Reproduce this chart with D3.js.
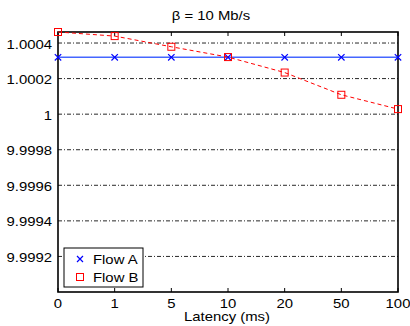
<!DOCTYPE html>
<html>
<head>
<meta charset="UTF-8">
<title>Latency</title>
<style>
  body { margin: 0; background: #fff; }
  text { font-family: "Liberation Sans", Arial, sans-serif; font-size: 12.6px; fill: #000; }
</style>
</head>
<body>
<div id="app"></div>
<script src="https://cdnjs.cloudflare.com/ajax/libs/d3/7.8.5/d3.min.js"></script>
<script>
let latencies = ['0', '1', '5', '10', '20', '50', '100']
let flowA = [1.00032, 1.00032, 1.00032, 1.00032, 1.00032, 1.00032, 1.00032]
let flowB = [1.000462, 1.000439, 1.000379, 1.000321, 1.000234, 1.000109, 1.0000285]
let yTicks = [0.9992, 0.9994, 0.9996, 0.9998, 1, 1.0002, 1.0004]
let yLabels = ['9.9992', '9.9994', '9.9996', '9.9998', '1', '1.0002', '1.0004']

let W = 410, H = 326
let L = 58, R = 398, T = 32, B = 292
let SX = 1.18  // the picture is a bit wide

let svg = d3.select('#app').append('svg')
  .attr('width', W).attr('height', H)

let x = d3.scalePoint().domain(latencies).range([L, R])
let y = d3.scaleLinear().domain([0.999, 1.000462]).range([B, T])

function label(sel, px, py, anchor) {
  return sel.append('text')
    .attr('text-anchor', anchor)
    .attr('transform', 'translate(' + px + ',' + py + ') scale(' + SX + ',1)')
}

// grid
svg.append('g').selectAll('line').data(yTicks).enter().append('line')
  .attr('x1', L).attr('x2', R)
  .attr('y1', d => y(d)).attr('y2', d => y(d))
  .attr('stroke', '#111').attr('stroke-width', 0.9)
  .attr('stroke-dasharray', '4,2,1,2')

// x ticks, top and bottom, inward
let xt = svg.append('g')
latencies.forEach(d => {
  xt.append('line').attr('x1', x(d)).attr('x2', x(d)).attr('y1', B).attr('y2', B - 4)
    .attr('stroke', '#000')
  xt.append('line').attr('x1', x(d)).attr('x2', x(d)).attr('y1', T).attr('y2', T + 4)
    .attr('stroke', '#000')
  label(svg, x(d), 308, 'middle').text(d)
})

yTicks.forEach((d, i) => {
  label(svg, 52, y(d) + 5.5, 'end').text(yLabels[i])
})

// frame
svg.append('rect').attr('x', L).attr('y', T).attr('width', R - L).attr('height', B - T)
  .attr('fill', 'none').attr('stroke', '#000').attr('stroke-width', 1.6)

// flow A
let line = d3.line().x((d, i) => x(latencies[i])).y(d => y(d))
svg.append('path').datum(flowA).attr('d', line)
  .attr('fill', 'none').attr('stroke', '#4466ff').attr('stroke-width', 1.5)

function cross(g, cx, cy, s) {
  g.append('path')
    .attr('d', 'M' + (cx - s) + ',' + (cy - s) + 'L' + (cx + s) + ',' + (cy + s) +
      'M' + (cx - s) + ',' + (cy + s) + 'L' + (cx + s) + ',' + (cy - s))
    .attr('stroke', '#0000ff').attr('stroke-width', 1.2).attr('fill', 'none')
}
let ga = svg.append('g')
flowA.forEach((d, i) => cross(ga, x(latencies[i]), y(d), 3.2))

// flow B
svg.append('path').datum(flowB).attr('d', line)
  .attr('fill', 'none').attr('stroke', '#ff0000').attr('stroke-width', 1)
  .attr('stroke-dasharray', '4,3')
svg.append('g').selectAll('rect').data(flowB).enter().append('rect')
  .attr('x', (d, i) => x(latencies[i]) - 3.5).attr('y', d => y(d) - 3.5)
  .attr('width', 7).attr('height', 7)
  .attr('fill', 'none').attr('stroke', '#ff0000').attr('stroke-width', 1)

// titles
label(svg, 211, 20, 'middle').text('β = 10 Mb/s')
label(svg, 227, 321, 'middle').text('Latency (ms)')

// legend
let lg = svg.append('g')
lg.append('rect').attr('x', 64).attr('y', 248).attr('width', 79).attr('height', 39)
  .attr('fill', '#fff').attr('stroke', '#000').attr('stroke-width', 1)
cross(lg, 80, 259, 3)
lg.append('rect').attr('x', 76.5).attr('y', 273.5).attr('width', 7).attr('height', 7)
  .attr('fill', 'none').attr('stroke', '#ff0000')
label(lg, 93, 263.5, 'start').text('Flow A')
label(lg, 93, 281.5, 'start').text('Flow B')
</script>
</body>
</html>
